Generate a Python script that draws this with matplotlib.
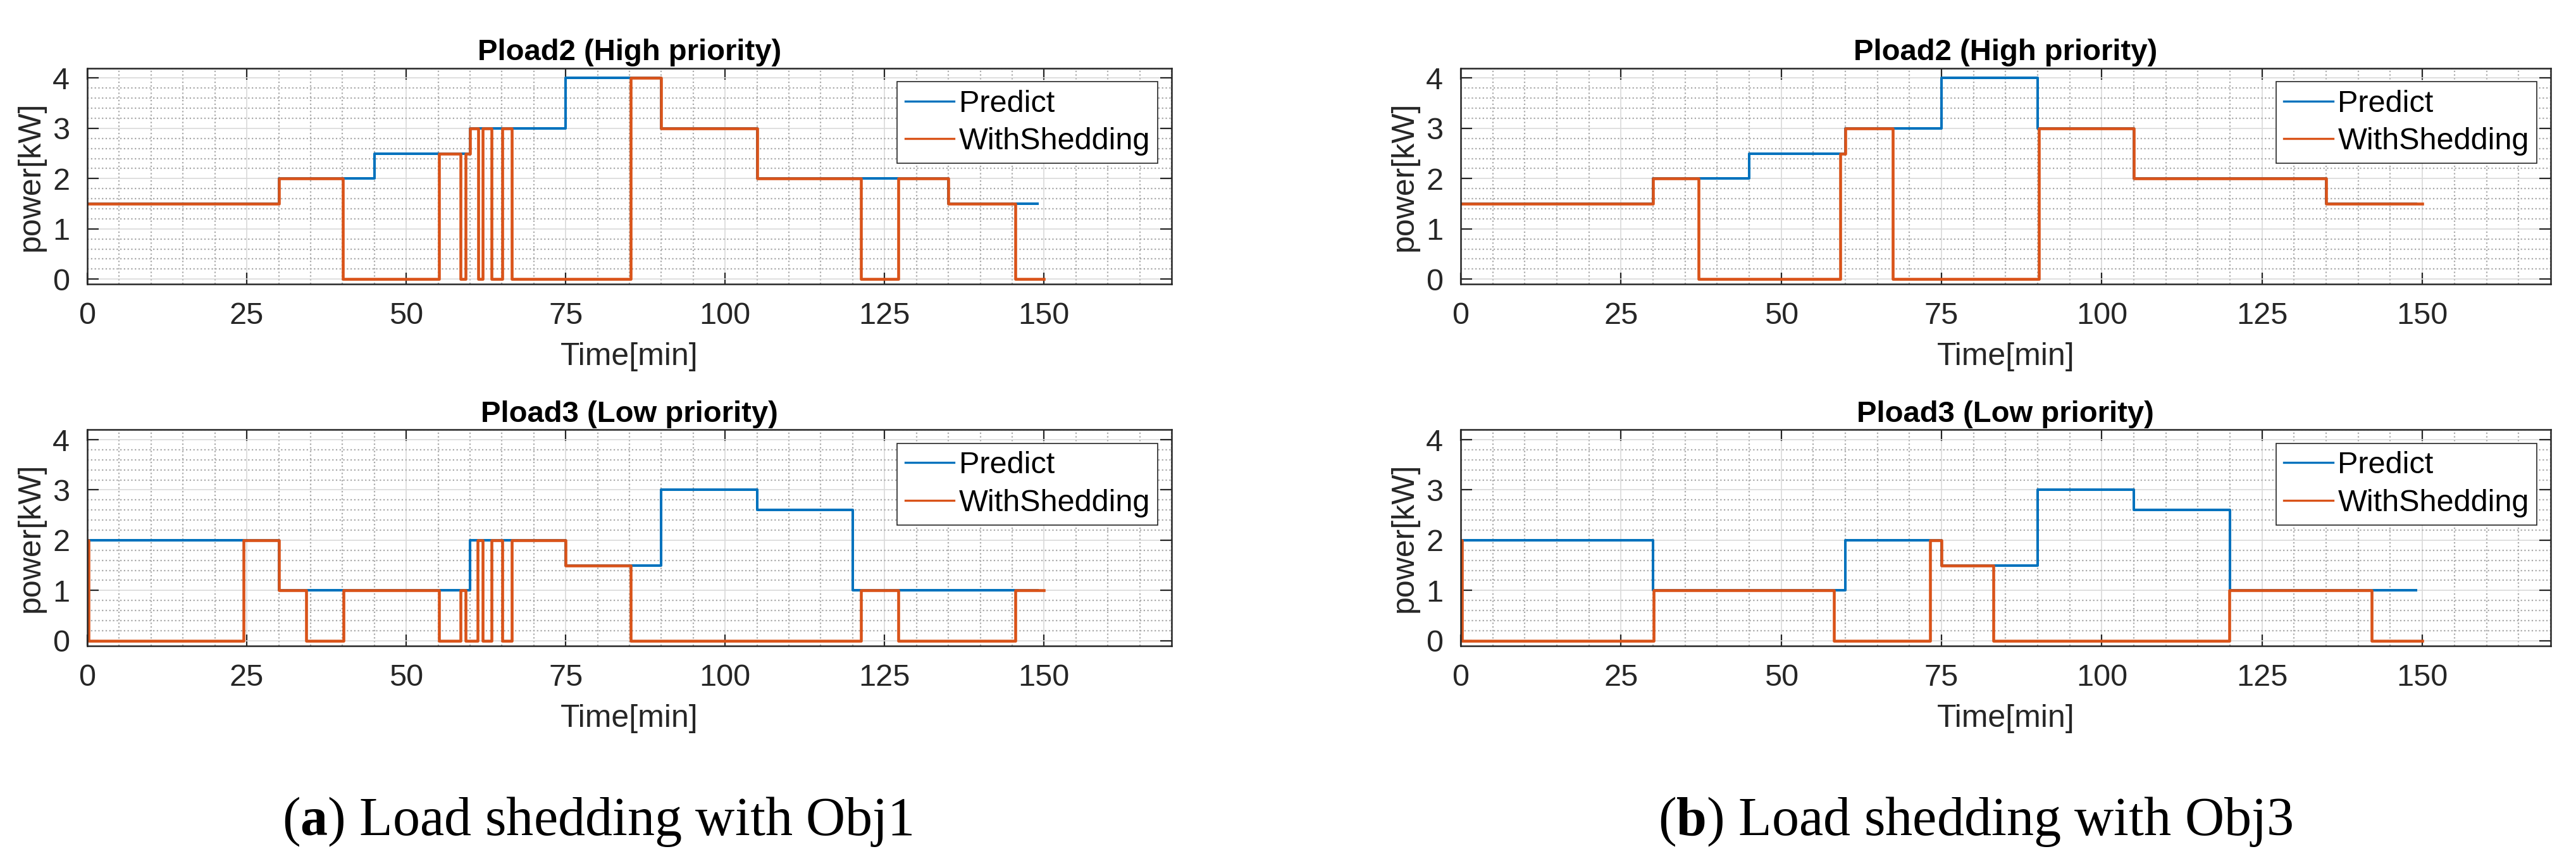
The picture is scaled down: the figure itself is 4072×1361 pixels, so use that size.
import matplotlib
matplotlib.use('Agg')
import matplotlib.pyplot as plt
from matplotlib.ticker import MultipleLocator

plt.rcParams['font.family'] = ['Liberation Sans', 'DejaVu Sans']
plt.rcParams['mathtext.fontset'] = 'custom'
plt.rcParams['mathtext.rm'] = 'Liberation Serif'
plt.rcParams['mathtext.bf'] = 'Liberation Serif:bold'

# predicted load profiles (same for both objectives)
pload2_pred_t = [0, 30, 45, 60, 75, 90, 105, 135, 149]
pload2_pred_v = [1.5, 2, 2.5, 3, 4, 3, 2, 1.5, 1.5]
pload3_pred_t = [0, 30, 60, 75, 90, 105, 120, 149]
pload3_pred_v = [2, 1, 2, 1.5, 3, 2.6, 1, 1]

# Obj1 shedding result
obj1_pload2_t = [0, 30, 40.1, 55.1, 58.5, 59.3, 60, 61.3, 62.0, 63.4, 65.1, 66.5, 85.2, 90, 105,
                 121.3, 127.2, 135, 145.5, 150]
obj1_pload2_v = [1.5, 2, 0, 2.5, 0, 2.5, 3, 0, 3, 0, 3, 0, 4, 3, 2, 0, 2, 1.5, 0, 0]
obj1_pload3_t = [0, 0.2, 24.5, 30, 34.3, 40.2, 55.1, 58.5, 59.3, 61.2, 62.0, 63.4, 65.1, 66.5, 75,
                 85.2, 121.3, 127.2, 145.5, 150]
obj1_pload3_v = [2, 0, 2, 1, 0, 1, 0, 1, 0, 2, 0, 2, 0, 2, 1.5, 0, 1, 0, 1, 1]

# Obj3 shedding result
obj3_pload2_t = [0, 30, 37.1, 59.2, 60, 67.4, 90.2, 105, 135, 150]
obj3_pload2_v = [1.5, 2, 0, 2.5, 3, 0, 3, 2, 1.5, 1.5]
obj3_pload3_t = [0, 0.2, 30.1, 58.2, 73.2, 75, 83.1, 119.9, 142.1, 150]
obj3_pload3_v = [2, 0, 1, 0, 2, 1.5, 0, 1, 0, 0]

titles = ['Pload2 (High priority)', 'Pload3 (Low priority)']
captions = [r'($\mathbf{a}$) Load shedding with Obj1', r'($\mathbf{b}$) Load shedding with Obj3']

BLUE = '#0072BD'
ORANGE = '#D95319'
DARK = '#262626'


def draw_panel(ax, t_pred, v_pred, t_shed, v_shed, title):
    ax.plot(t_pred, v_pred, drawstyle='steps-post', color=BLUE, lw=2.9, label='Predict')
    ax.plot(t_shed, v_shed, drawstyle='steps-post', color=ORANGE, lw=3.3, label='WithShedding')
    ax.set_xlim(0, 170)
    ax.set_ylim(-0.1, 4.2)
    ax.set_xticks([0, 25, 50, 75, 100, 125, 150])
    ax.set_yticks([0, 1, 2, 3, 4])
    ax.xaxis.set_minor_locator(MultipleLocator(5))
    ax.yaxis.set_minor_locator(MultipleLocator(0.2))
    ax.grid(which='major', color='#d9d9d9', lw=1.2, ls='-')
    ax.grid(which='minor', color='#aaaaaa', lw=1.6, ls=(0, (1, 1.6)))
    ax.set_axisbelow(True)
    ax.tick_params(which='major', direction='in', length=13, width=1.6, colors=DARK,
                   top=True, right=True, labelsize=35, pad=20)
    ax.tick_params(which='minor', length=0)
    for s in ax.spines.values():
        s.set_color(DARK)
        s.set_linewidth(1.8)
    ax.set_title(title, fontsize=34, fontweight='bold', pad=9)
    ax.set_xlabel('Time[min]', fontsize=36, color=DARK, labelpad=14)
    ax.set_ylabel('power[kW]', fontsize=36, color=DARK, labelpad=8)
    leg = ax.legend(loc='upper right', fontsize=35, fancybox=False, framealpha=1,
                    edgecolor='#262626', borderpad=0.25, labelspacing=0.3, handlelength=1.6,
                    handletextpad=0.15, borderaxespad=0.45)
    leg.get_frame().set_linewidth(1.2)
    for ln in leg.get_lines():
        ln.set_linewidth(2.4)


fig = plt.figure(figsize=(40.73, 13.61), dpi=100)

ax1 = fig.add_axes([0.0339, 0.6700, 0.4208, 0.2510])
ax2 = fig.add_axes([0.0339, 0.2500, 0.4208, 0.2510])
ax3 = fig.add_axes([0.5669, 0.6700, 0.4230, 0.2510])
ax4 = fig.add_axes([0.5669, 0.2500, 0.4230, 0.2510])

draw_panel(ax1, pload2_pred_t, pload2_pred_v, obj1_pload2_t, obj1_pload2_v, titles[0])
draw_panel(ax2, pload3_pred_t, pload3_pred_v, obj1_pload3_t, obj1_pload3_v, titles[1])
draw_panel(ax3, pload2_pred_t, pload2_pred_v, obj3_pload2_t, obj3_pload2_v, titles[0])
draw_panel(ax4, pload3_pred_t, pload3_pred_v, obj3_pload3_t, obj3_pload3_v, titles[1])

fig.text(0.2318, 0.030, captions[0], fontsize=62, ha='center', va='baseline',
         family='Liberation Serif')
fig.text(0.7668, 0.030, captions[1], fontsize=62, ha='center', va='baseline',
         family='Liberation Serif')

fig.savefig('out.png', dpi=100)
